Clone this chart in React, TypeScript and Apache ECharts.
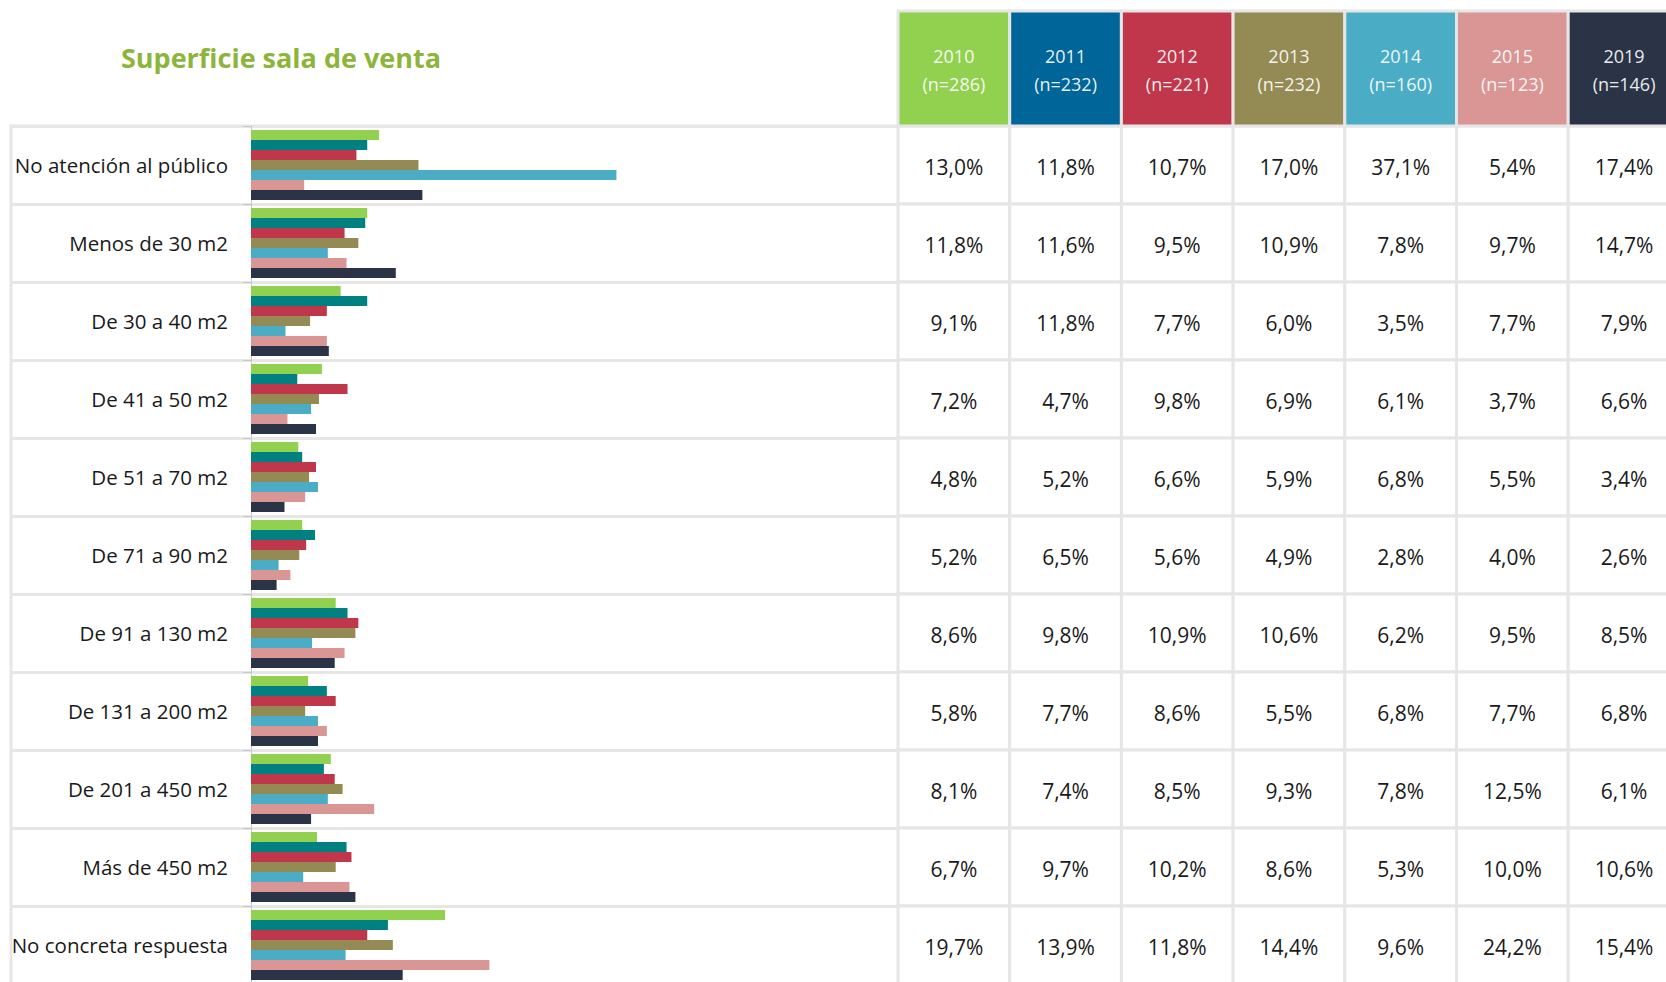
import { useEffect, useRef } from 'react';
import * as echarts from 'echarts';

// ---------- data ----------
const title = 'Superficie sala de venta';
const categories = [
  'No atención al público',
  'Menos de 30 m2',
  'De 30 a 40 m2',
  'De 41 a 50 m2',
  'De 51 a 70 m2',
  'De 71 a 90 m2',
  'De 91 a 130 m2',
  'De 131 a 200 m2',
  'De 201 a 450 m2',
  'Más de 450 m2',
  'No concreta respuesta',
];
const years = ['2010', '2011', '2012', '2013', '2014', '2015', '2019'];
const sampleSizes = [286, 232, 221, 232, 160, 123, 146];

const values2010 = [13.0, 11.8, 9.1, 7.2, 4.8, 5.2, 8.6, 5.8, 8.1, 6.7, 19.7];
const values2011 = [11.8, 11.6, 11.8, 4.7, 5.2, 6.5, 9.8, 7.7, 7.4, 9.7, 13.9];
const values2012 = [10.7, 9.5, 7.7, 9.8, 6.6, 5.6, 10.9, 8.6, 8.5, 10.2, 11.8];
const values2013 = [17.0, 10.9, 6.0, 6.9, 5.9, 4.9, 10.6, 5.5, 9.3, 8.6, 14.4];
const values2014 = [37.1, 7.8, 3.5, 6.1, 6.8, 2.8, 6.2, 6.8, 7.8, 5.3, 9.6];
const values2015 = [5.4, 9.7, 7.7, 3.7, 5.5, 4.0, 9.5, 7.7, 12.5, 10.0, 24.2];
const values2019 = [17.4, 14.7, 7.9, 6.6, 3.4, 2.6, 8.5, 6.8, 6.1, 10.6, 15.4];
const seriesValues = [values2010, values2011, values2012, values2013, values2014, values2015, values2019];

// ---------- styles / layout ----------
const barColors = ['#92d050', '#008080', '#c0374b', '#948a54', '#4bacc6', '#d99694', '#2b3447'];
const headerColors = ['#92d050', '#006699', '#c0374b', '#948a54', '#4bacc6', '#d99694', '#2b3447'];
const FONT = "'Segoe UI', 'Open Sans', sans-serif";
const LINE = '#e6e6e6';

const FRAME_LEFT = 11;
const AXIS_X = 251;
const ROW_TOP = 126;
const ROW_H = 78;
const TABLE_LEFT = 898;
const COL_W = 111.7;
const HEADER_TOP = 11;
const PX_PER_PCT = 9.85;
const BAR_MAX = 60;
const FRAME_W = 1690;

const fmt = (v: number) => v.toFixed(1).replace('.', ',') + '%';

export default function App() {
  const ref = useRef<HTMLDivElement>(null);

  useEffect(() => {
    const chart = echarts.init(ref.current!, null, { renderer: 'svg' });
    const bodyH = ROW_H * categories.length;

    const tableData: number[][] = [];
    categories.forEach((_, i) => {
      years.forEach((_, j) => {
        tableData.push([j, i, seriesValues[j][i]]);
      });
    });
    const headerData = years.map((_, j) => [j, 0, sampleSizes[j]]);

    const cellRect = (api: any) => {
      const c = api.coord([api.value(0), api.value(1)]);
      const s = api.size([1, 1]);
      return { c, s, shape: { x: c[0] - s[0] / 2, y: c[1] - s[1] / 2, width: s[0], height: s[1] } };
    };

    const noBounds = { containLabel: false, outerBoundsMode: 'none' };

    const option: any = {
      animation: false,
      backgroundColor: '#ffffff',
      textStyle: { fontFamily: FONT },
      grid: [
        // 0: bars
        { left: AXIS_X, top: ROW_TOP, width: BAR_MAX * PX_PER_PCT, height: bodyH, ...noBounds },
        // 1: table body
        { left: TABLE_LEFT, top: ROW_TOP, width: COL_W * years.length, height: bodyH, ...noBounds },
        // 2: header
        {
          left: TABLE_LEFT,
          top: HEADER_TOP,
          width: COL_W * years.length,
          height: ROW_TOP - HEADER_TOP,
          ...noBounds,
        },
        // 3: frame (row lines across label + bar area)
        {
          left: FRAME_LEFT,
          top: ROW_TOP,
          width: FRAME_W,
          height: bodyH,
          show: true,
          borderColor: LINE,
          borderWidth: 3,
          backgroundColor: 'transparent',
          ...noBounds,
        },
      ],
      xAxis: [
        { gridIndex: 0, type: 'value', min: 0, max: BAR_MAX, show: false },
        { gridIndex: 1, type: 'category', data: years, show: false },
        { gridIndex: 2, type: 'category', data: years, show: false },
        { gridIndex: 3, type: 'value', min: 0, max: 1, show: false },
      ],
      yAxis: [
        {
          gridIndex: 0,
          type: 'category',
          inverse: true,
          data: categories,
          axisLine: { show: true, lineStyle: { color: '#c8c8c8', width: 1 } },
          axisTick: { show: true, length: 8, lineStyle: { color: '#c8c8c8' } },
          splitLine: { show: false },
          axisLabel: { margin: 23, fontSize: 20.5, color: '#1a1a1a', fontFamily: FONT },
        },
        { gridIndex: 1, type: 'category', inverse: true, data: categories, show: false },
        { gridIndex: 2, type: 'category', data: ['header'], show: false },
        {
          gridIndex: 3,
          type: 'category',
          inverse: true,
          data: categories,
          axisLine: { show: false },
          axisTick: { show: false },
          axisLabel: { show: false },
          splitLine: { show: true, lineStyle: { color: LINE, width: 3 } },
        },
      ],
      series: [
        ...years.map((y, j) => ({
          name: y,
          type: 'bar',
          xAxisIndex: 0,
          yAxisIndex: 0,
          data: seriesValues[j],
          barWidth: 10,
          barGap: '0%',
          itemStyle: { color: barColors[j] },
          emphasis: { disabled: true },
          z: 3,
        })),
        {
          type: 'custom',
          xAxisIndex: 1,
          yAxisIndex: 1,
          data: tableData,
          z: 4,
          renderItem: (params: any, api: any) => {
            const { c, shape } = cellRect(api);
            return {
              type: 'group',
              children: [
                { type: 'rect', shape, style: { fill: '#ffffff', stroke: LINE, lineWidth: 3 } },
                {
                  type: 'text',
                  x: c[0],
                  y: c[1] + 1.5,
                  style: {
                    text: fmt(api.value(2)),
                    fill: '#1a1a1a',
                    fontSize: 21,
                    fontFamily: FONT,
                    align: 'center',
                    verticalAlign: 'middle',
                    textAlign: 'center',
                    textVerticalAlign: 'middle',
                  },
                },
              ],
            };
          },
        },
        {
          type: 'custom',
          xAxisIndex: 2,
          yAxisIndex: 2,
          data: headerData,
          z: 4,
          renderItem: (params: any, api: any) => {
            const { c, shape } = cellRect(api);
            const j = api.value(0);
            return {
              type: 'group',
              children: [
                { type: 'rect', shape, style: { fill: headerColors[j], stroke: LINE, lineWidth: 3 } },
                {
                  type: 'text',
                  x: c[0],
                  y: c[1] + 1,
                  style: {
                    text: `${years[j]}\n(n=${api.value(2)})`,
                    fill: 'rgba(255,255,255,0.92)',
                    fontSize: 18,
                    lineHeight: 28,
                    fontFamily: FONT,
                    align: 'center',
                    verticalAlign: 'middle',
                    textAlign: 'center',
                    textVerticalAlign: 'middle',
                  },
                },
              ],
            };
          },
        },
      ],
      graphic: [
        {
          type: 'text',
          x: 281,
          y: 57,
          style: {
            text: title,
            fill: '#8db53c',
            fontSize: 27,
            fontWeight: 'bold',
            fontFamily: FONT,
            textAlign: 'center',
            textVerticalAlign: 'middle',
            align: 'center',
            verticalAlign: 'middle',
          },
        },
      ],
    };

    chart.setOption(option);
    return () => chart.dispose();
  }, []);

  return (
    <div
      ref={ref}
      style={{ position: 'fixed', left: 0, top: 0, width: 1666, height: 982, background: '#ffffff' }}
    />
  );
}
